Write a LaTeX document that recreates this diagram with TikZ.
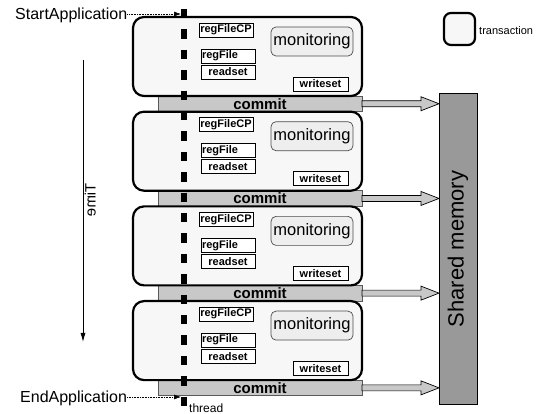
\documentclass[tikz,border=0pt]{standalone}
\usepackage{fontspec}
\setmainfont{Liberation Sans}
\usetikzlibrary{arrows.meta,calc}
\definecolor{txfill}{HTML}{F7F7F7}
\definecolor{monfill}{HTML}{EEEEEE}
\definecolor{commitgray}{HTML}{C8C8C8}
\definecolor{smgray}{HTML}{999999}
\newcommand\fsz[1]{\fontsize{#1}{#1}\selectfont}
\begin{document}
\begin{tikzpicture}[x=1pt,y=-1pt,
  txbox/.style={draw=black, line width=2.2pt, rounded corners=11pt, fill=txfill,
    minimum width=229pt, minimum height=79pt, inner sep=0pt, outer sep=0pt, anchor=north west},
  commitbar/.style={draw=black!65, line width=0.6pt, fill=commitgray,
    minimum width=204pt, minimum height=15.5pt, inner sep=0pt, outer sep=0pt, anchor=north west,
    font=\fsz{15}\bfseries},
  lbl/.style={draw=black, line width=0.8pt, fill=white, minimum height=14pt,
    minimum width=54pt, inner sep=1pt, outer sep=0pt, anchor=north west, font=\fsz{11}\bfseries},
  monbox/.style={draw=black!70, line width=0.7pt, rounded corners=5pt, fill=monfill,
    minimum width=82pt, minimum height=29pt, inner sep=0pt, outer sep=0pt, anchor=north west,
    font=\fsz{16.5}},
  blockarrow/.style={draw=black, line width=0.7pt, fill=commitgray},
  threadline/.style={line width=6pt, dash pattern=on 9.4pt off 11pt, line cap=butt},
  appl/.style={inner sep=0pt, anchor=west, font=\fsz{16}},
  dotarrow/.style={densely dotted, line width=0.6pt, -{Latex[length=7pt,width=5pt]}},
]
\useasboundingbox (0,0) rectangle (552,414);

% shared memory
\node[draw=black, line width=1pt, fill=smgray, minimum width=38pt, minimum height=310pt,
  inner sep=0pt, outer sep=0pt, anchor=north west] (sm) at (439,94) {};
\node[rotate=90, inner sep=0pt, font=\fsz{22}] (smlabel) at (sm.center) {Shared memory};

% transactions and commits
\foreach \i/\t in {1/17,2/111.7,3/206.4,4/301.1}{
  \node[commitbar] (cm\i) at (158,\t+79) {commit};
  \node[txbox] (tx\i) at (133,\t) {};
  \node[lbl] (cp\i) at ($(tx\i.north west)+(66,6)$) {regFileCP};
  \node[lbl, text width=52pt, align=left] (rf\i) at ($(tx\i.north west)+(68,32)$) {regFile};
  \node[lbl] (rs\i) at ($(tx\i.north west)+(68,48)$) {readset};
  \node[lbl, minimum width=55pt] (ws\i) at ($(tx\i.north west)+(160,60)$) {writeset};
  \node[monbox] (mon\i) at ($(tx\i.north west)+(138,10)$) {monitoring};
  \draw[blockarrow] let \p1=(cm\i.east), \p2=(sm.west) in
    (\x1,\y1+3pt) -- (\x2-18pt,\y1+3pt) -- (\x2-18pt,\y1+7pt) -- (\x2,\y1)
    -- (\x2-18pt,\y1-7pt) -- (\x2-18pt,\y1-3pt) -- (\x1,\y1-3pt) -- cycle;
}

% thread
\coordinate (ttop) at (184,9);
\coordinate (tbot) at (184,408);
\draw[threadline] (ttop) -- (tbot);
\node[inner sep=0pt, anchor=west, font=\fsz{12}] (thr) at (189,408) {thread};

% start / end
\node[appl] (start) at (15,15.5) {StartApplication};
\coordinate (sa) at (181,14);
\draw[dotarrow] (start.east |- sa) -- (sa);
\node[appl] (endapp) at (20,398) {EndApplication};
\coordinate (ea) at (181,397);
\draw[dotarrow] (endapp.east |- ea) -- (ea);

% time
\coordinate (timetop) at (83,60);
\coordinate (timebot) at (83,342);
\draw[line width=0.8pt, -{Latex[length=9pt,width=5pt]}] (timetop) -- (timebot);
\node[cm={0,-1,-1,0,(0,0)}, anchor=north, inner sep=0pt, font=\fsz{15}] (time) at (84.5,200) {Time};

% legend
\node[draw=black, line width=2.2pt, rounded corners=7pt, fill=txfill, minimum width=31pt,
  minimum height=32pt, inner sep=0pt, outer sep=0pt, anchor=north west] (leg) at (444,13) {};
\node[inner sep=0pt, anchor=west, font=\fsz{11}] (legtxt) at (479,31) {transaction};
\end{tikzpicture}
\end{document}
